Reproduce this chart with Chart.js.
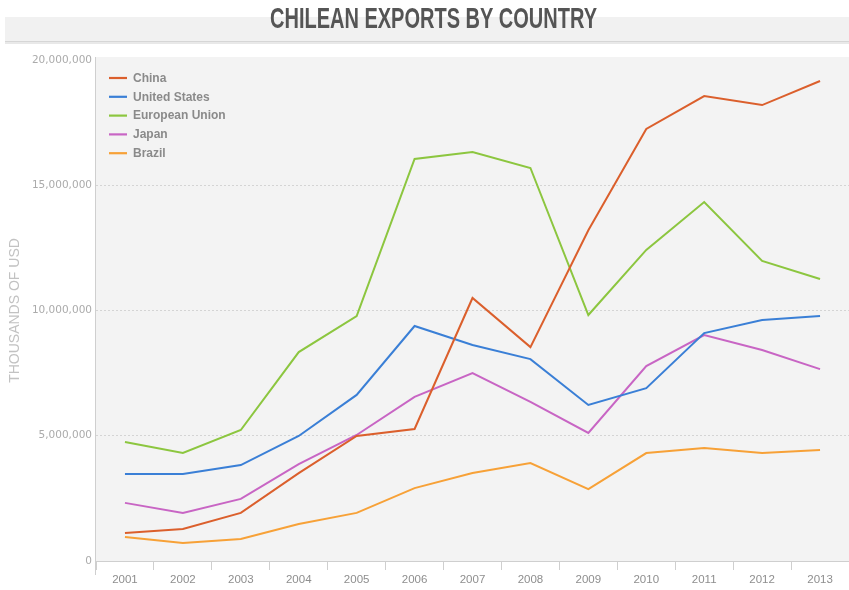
<!DOCTYPE html>
<html>
<head>
<meta charset="utf-8">
<script src="https://cdn.jsdelivr.net/npm/chart.js@4.4.0/dist/chart.umd.min.js"></script>
<style>
  html, body { margin: 0; padding: 0; background: #ffffff; }
  #wrap { width: 849px; height: 590px; }
</style>
</head>
<body>
<div id="wrap"><canvas id="c" width="849" height="590"></canvas></div>
<script>
// ---- Data (thousands of USD) ----
const years = ['2001','2002','2003','2004','2005','2006','2007','2008','2009','2010','2011','2012','2013'];
const china        = [1120000, 1280000, 1920000, 3510000, 4990000, 5270000, 10500000, 8540000, 13200000, 17250000, 18560000, 18200000, 19160000];
const unitedStates = [3470000, 3470000, 3830000, 4990000, 6630000, 9380000, 8620000, 8060000, 6230000, 6900000, 9100000, 9620000, 9780000];
const europeanUnion= [4750000, 4310000, 5230000, 8340000, 9780000, 16050000, 16330000, 15690000, 9820000, 12420000, 14330000, 11980000, 11260000];
const japan        = [2320000, 1920000, 2480000, 3870000, 5030000, 6550000, 7500000, 6350000, 5110000, 7780000, 9020000, 8420000, 7660000];
const brazil       = [960000, 720000, 880000, 1480000, 1920000, 2910000, 3510000, 3910000, 2870000, 4310000, 4510000, 4310000, 4430000];
const seriesNames  = ['China', 'United States', 'European Union', 'Japan', 'Brazil'];
const yTicks       = [0, 5000000, 10000000, 15000000, 20000000];
const titleText    = 'CHILEAN EXPORTS BY COUNTRY';
const yAxisTitle   = 'THOUSANDS OF USD';

const colors = ['#db5f2c', '#3a7fd6', '#8cc63f', '#c865c4', '#f7a137'];
const seriesData = [china, unitedStates, europeanUnion, japan, brazil];

const bgPlugin = {
  id: 'bg',
  beforeDraw(chart) {
    const ctx = chart.ctx, ca = chart.chartArea;
    ctx.save();
    ctx.fillStyle = '#ffffff';
    ctx.fillRect(0, 0, chart.width, chart.height);
    // title band
    ctx.fillStyle = '#f1f1f1';
    ctx.fillRect(5, 17, chart.width - 5, 25);
    ctx.fillStyle = '#d6d6d6';
    ctx.fillRect(5, 41, chart.width - 5, 1.5);
    ctx.fillStyle = '#e8e8e8';
    ctx.fillRect(5, 42.5, chart.width - 5, 1.5);
    // plot panel
    ctx.fillStyle = '#f3f3f3';
    ctx.fillRect(ca.left, ca.top - 3, ca.right - ca.left, ca.bottom - ca.top + 3);
    // title text (condensed horizontally to match the narrow face)
    ctx.font = 'bold 30px "Liberation Sans"';
    const w = ctx.measureText(titleText).width;
    const target = 327;
    ctx.translate(433.5, 20);
    ctx.scale(target / w, 1);
    ctx.fillStyle = '#555555';
    ctx.textAlign = 'center';
    ctx.textBaseline = 'middle';
    ctx.fillText(titleText, 0, 0);
    ctx.restore();
  },
  afterDraw(chart) {
    const ctx = chart.ctx, ca = chart.chartArea;
    ctx.save();
    ctx.strokeStyle = '#cfcfcf';
    ctx.lineWidth = 1;
    ctx.beginPath();
    ctx.moveTo(ca.left - 0.5, ca.top - 3);
    ctx.lineTo(ca.left - 0.5, ca.bottom + 14);
    ctx.stroke();
    // legend
    const ds = chart.data.datasets;
    ds.forEach((d, i) => {
      const y = 78 + i * 18.8;
      ctx.strokeStyle = d.borderColor;
      ctx.lineWidth = 2.2;
      ctx.beginPath();
      ctx.moveTo(109, y);
      ctx.lineTo(127, y);
      ctx.stroke();
      ctx.fillStyle = '#8a8a8a';
      ctx.font = 'bold 12px "Liberation Sans"';
      ctx.textAlign = 'left';
      ctx.textBaseline = 'middle';
      ctx.fillText(d.label, 133, y + 0.5);
    });
    ctx.restore();
  }
};

const datasets = seriesNames.map((name, i) => ({
  label: name,
  data: seriesData[i],
  borderColor: colors[i],
  backgroundColor: colors[i],
  borderWidth: 2,
  pointRadius: 0,
  pointHoverRadius: 0,
  tension: 0,
  fill: false
}));

new Chart(document.getElementById('c'), {
  type: 'line',
  data: { labels: years, datasets: datasets },
  plugins: [bgPlugin],
  options: {
    responsive: false,
    animation: false,
    devicePixelRatio: 1,
    layout: { padding: { top: 60, right: 0, bottom: 0, left: 0 } },
    plugins: {
      legend: { display: false },
      title: { display: false },
      tooltip: { enabled: false }
    },
    scales: {
      x: {
        type: 'category',
        offset: true,
        afterFit(scale) { scale.height = 29; },
        grid: {
          offset: true,
          drawOnChartArea: false,
          drawTicks: true,
          tickLength: 9,
          color: '#cfcfcf'
        },
        border: { display: true, color: '#cfcfcf', width: 1 },
        ticks: {
          color: '#8e8e8e',
          font: { family: '"Liberation Sans"', size: 11.5 },
          padding: 3,
          maxRotation: 0,
          autoSkip: false
        }
      },
      y: {
        min: 0,
        max: 20000000,
        afterFit(scale) { scale.width = 96; },
        afterBuildTicks(scale) { scale.ticks = yTicks.map(v => ({ value: v })); },
        grid: {
          drawTicks: false,
          color: (c) => (c.tick && (c.tick.value === 0 || c.tick.value === 20000000)) ? 'rgba(0,0,0,0)' : '#d4d4d4'
        },
        border: { display: false, dash: [2, 2] },
        ticks: {
          color: '#ababab',
          font: { family: '"DejaVu Sans"', size: 10.5 },
          padding: 4,
          callback: (v) => v.toLocaleString('en-US')
        },
        title: {
          display: true,
          text: yAxisTitle,
          color: '#c2c2c2',
          font: { family: '"Liberation Sans"', size: 14 },
          padding: { top: 7, bottom: 0 }
        }
      }
    }
  }
});
</script>
</body>
</html>
